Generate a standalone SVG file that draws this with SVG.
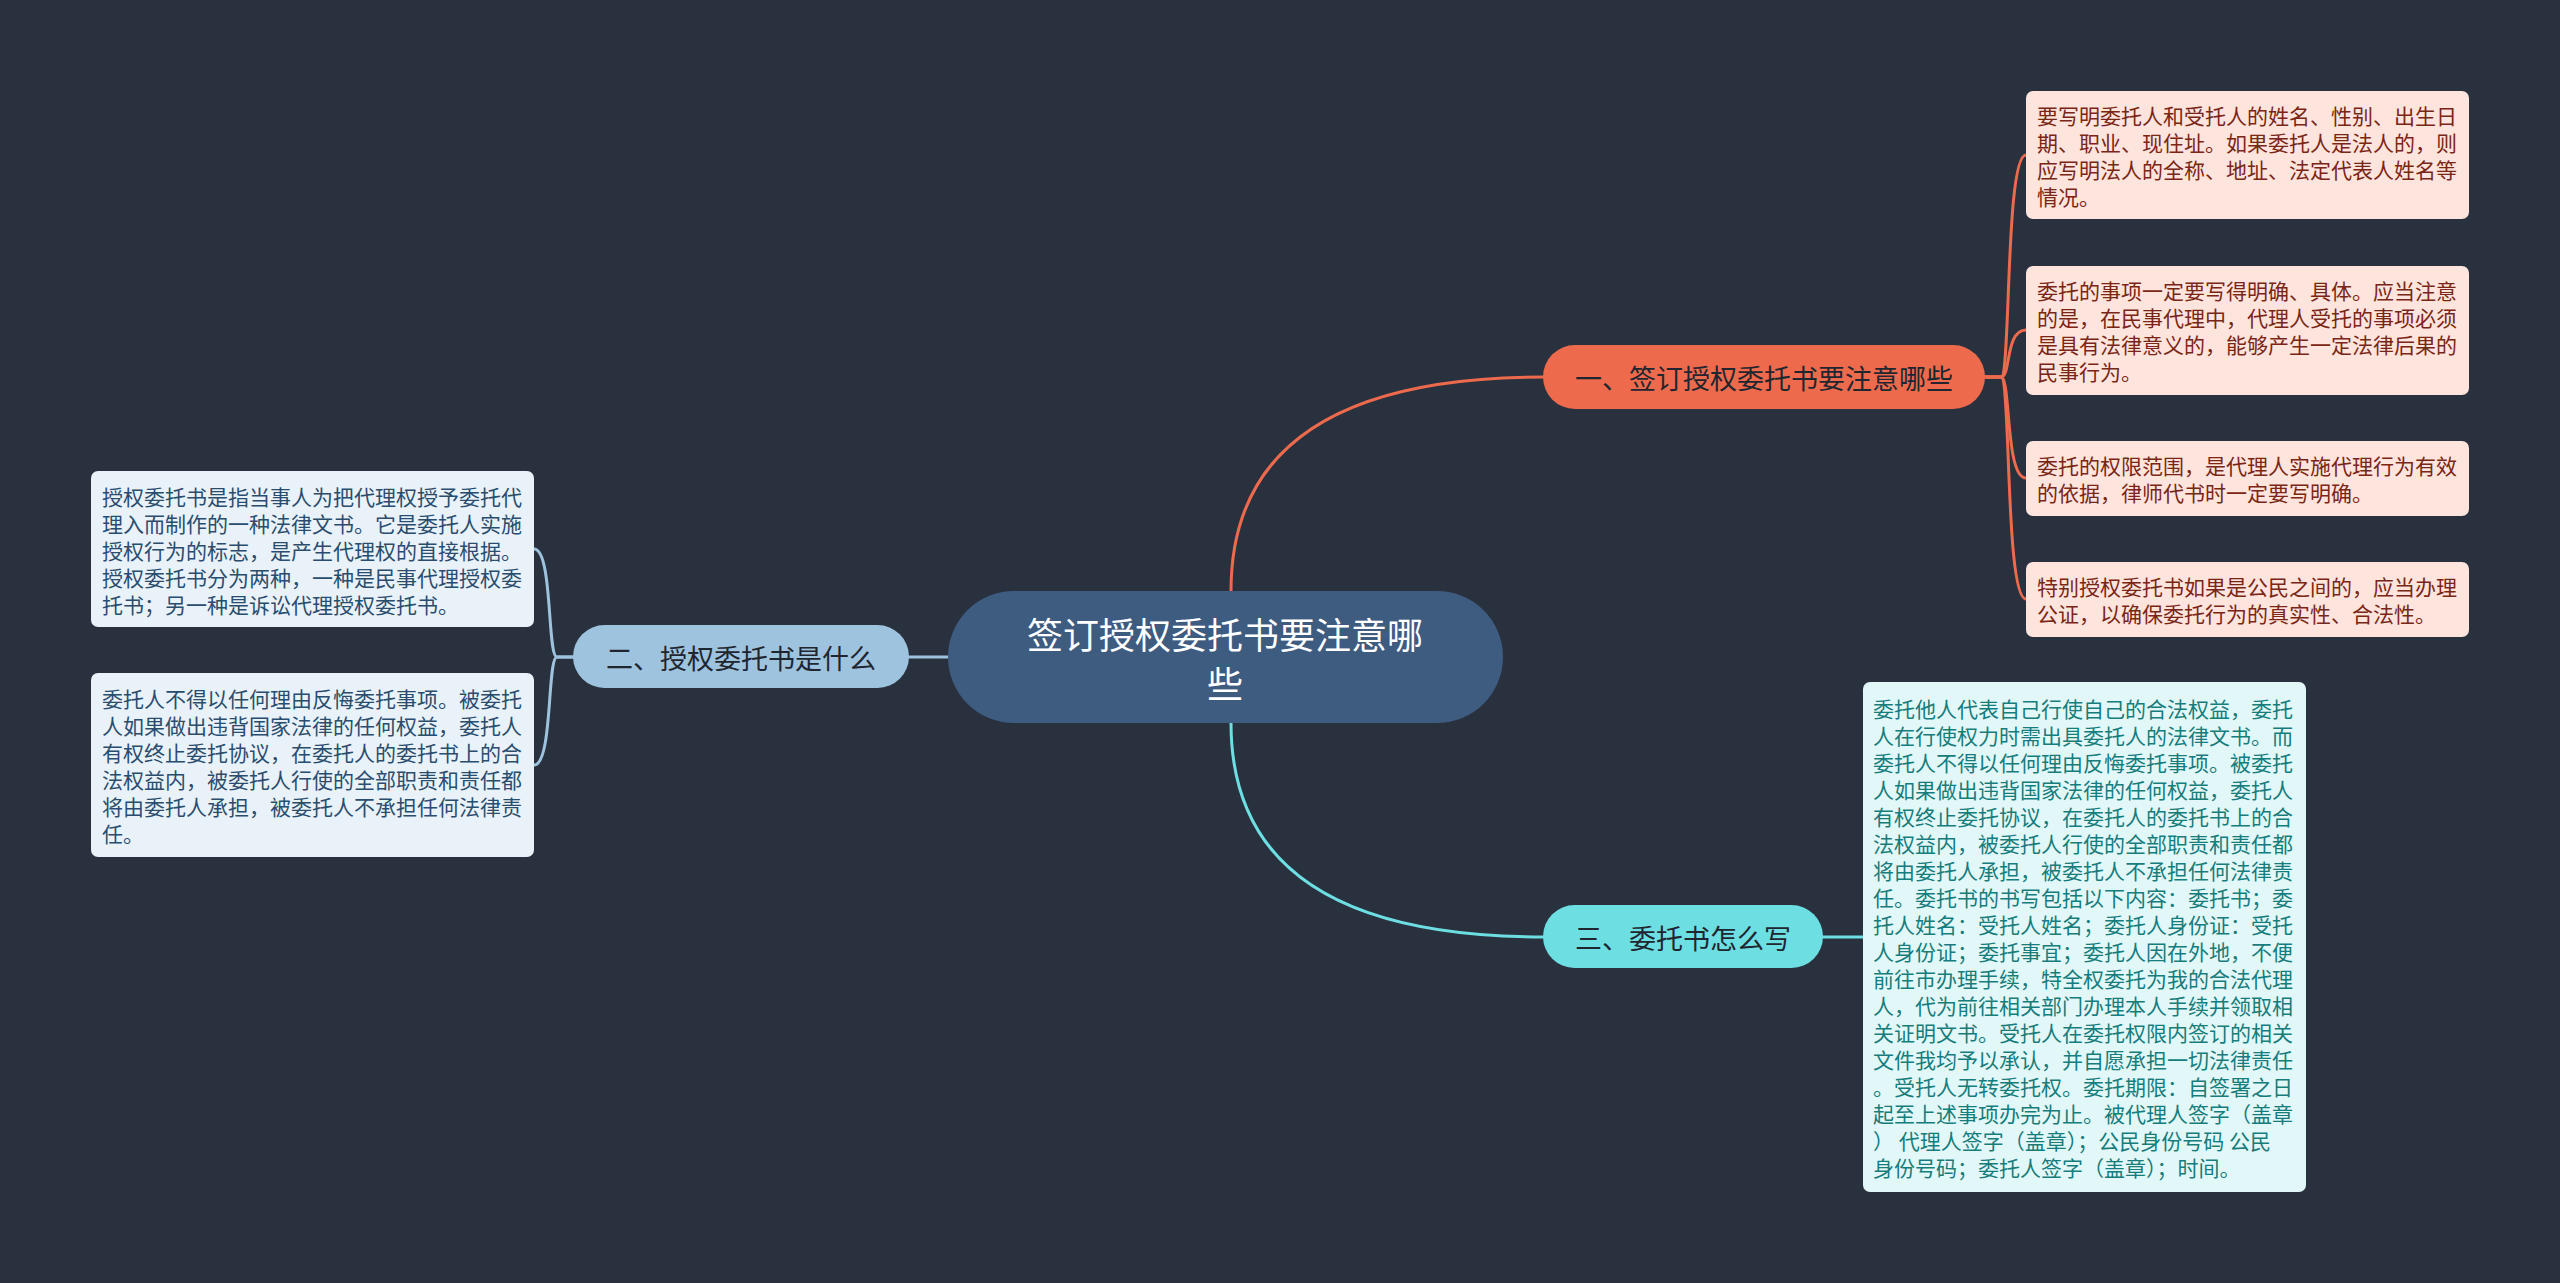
<svg xmlns="http://www.w3.org/2000/svg" width="2560" height="1283" viewBox="0 0 2560 1283">
<style>
text{font-family:"Noto Sans CJK SC","Noto Sans",sans-serif;dominant-baseline:central}
.c{fill:none;stroke-width:3;stroke-linecap:round}
.leaf text{font-size:21px}
.r rect{fill:#fde4dd}.r text{fill:#7a2616}
.b rect{fill:#e9f2f9}.b text{fill:#2a4d6e}
.t rect{fill:#e2f8f8}.t text{fill:#167c7c}
.lbl{font-size:27px;fill:#1f2630;text-anchor:middle}
</style>
<rect width="2560" height="1283" fill="#29303e"/>
<g id="connectors">
<path class="c" stroke="#ee6a4c" d="M1231 591 Q1231 377 1543 377"/>
<path class="c" stroke="#6ddfe2" d="M1231 723 Q1231 937 1543 937"/>
<path class="c" stroke="#9ec3de" d="M948 657 H909"/>
<path class="c" stroke="#ee6a4c" d="M1985 377 H2001 C2011 377 2005 155 2026 155"/>
<path class="c" stroke="#ee6a4c" d="M1985 377 H2001 C2011 377 2005 330 2026 330"/>
<path class="c" stroke="#ee6a4c" d="M1985 377 H2001 C2011 377 2005 478 2026 478"/>
<path class="c" stroke="#ee6a4c" d="M1985 377 H2001 C2011 377 2005 599 2026 599"/>
<path class="c" stroke="#9ec3de" d="M573 657 H557 C547 657 553 549 534 549"/>
<path class="c" stroke="#9ec3de" d="M573 657 H557 C547 657 553 765 534 765"/>
<path class="c" stroke="#6ddfe2" d="M1823 937 H1863"/>
</g>
<g id="root">
<rect x="948" y="591" width="555" height="132" rx="66" fill="#3e5b80"/>
<text x="1225" y="633" font-size="36" fill="#ffffff" text-anchor="middle">签订授权委托书要注意哪</text>
<text x="1225" y="682" font-size="36" fill="#ffffff" text-anchor="middle">些</text>
</g>
<g id="n1">
<rect x="1543" y="345" width="442" height="64" rx="32" fill="#ee6a4c"/>
<text class="lbl" x="1764" y="377">一、签订授权委托书要注意哪些</text>
</g>
<g id="n2">
<rect x="573" y="625" width="336" height="63" rx="31.5" fill="#9ec3de"/>
<text class="lbl" x="741" y="657">二、授权委托书是什么</text>
</g>
<g id="n3">
<rect x="1543" y="905" width="280" height="63" rx="31.5" fill="#6ddfe2"/>
<text class="lbl" x="1683" y="937">三、委托书怎么写</text>
</g>
<g id="r1" class="leaf r">
<rect x="2026" y="91" width="443" height="128" rx="7"/>
<text x="2037" y="115">要写明委托人和受托人的姓名、性别、出生日</text>
<text x="2037" y="142">期、职业、现住址。如果委托人是法人的，则</text>
<text x="2037" y="169">应写明法人的全称、地址、法定代表人姓名等</text>
<text x="2037" y="196">情况。</text>
</g>
<g id="r2" class="leaf r">
<rect x="2026" y="266" width="443" height="129" rx="7"/>
<text x="2037" y="290">委托的事项一定要写得明确、具体。应当注意</text>
<text x="2037" y="317">的是，在民事代理中，代理人受托的事项必须</text>
<text x="2037" y="344">是具有法律意义的，能够产生一定法律后果的</text>
<text x="2037" y="371">民事行为。</text>
</g>
<g id="r3" class="leaf r">
<rect x="2026" y="441" width="443" height="75" rx="7"/>
<text x="2037" y="465">委托的权限范围，是代理人实施代理行为有效</text>
<text x="2037" y="492">的依据，律师代书时一定要写明确。</text>
</g>
<g id="r4" class="leaf r">
<rect x="2026" y="562" width="443" height="75" rx="7"/>
<text x="2037" y="586">特别授权委托书如果是公民之间的，应当办理</text>
<text x="2037" y="613">公证，以确保委托行为的真实性、合法性。</text>
</g>
<g id="l1" class="leaf b">
<rect x="91" y="471" width="443" height="156" rx="7"/>
<text x="102" y="496">授权委托书是指当事人为把代理权授予委托代</text>
<text x="102" y="523">理入而制作的一种法律文书。它是委托人实施</text>
<text x="102" y="550">授权行为的标志，是产生代理权的直接根据。</text>
<text x="102" y="577">授权委托书分为两种，一种是民事代理授权委</text>
<text x="102" y="604">托书；另一种是诉讼代理授权委托书。</text>
</g>
<g id="l2" class="leaf b">
<rect x="91" y="673" width="443" height="184" rx="7"/>
<text x="102" y="698">委托人不得以任何理由反悔委托事项。被委托</text>
<text x="102" y="725">人如果做出违背国家法律的任何权益，委托人</text>
<text x="102" y="752">有权终止委托协议，在委托人的委托书上的合</text>
<text x="102" y="779">法权益内，被委托人行使的全部职责和责任都</text>
<text x="102" y="806">将由委托人承担，被委托人不承担任何法律责</text>
<text x="102" y="833">任。</text>
</g>
<g id="t1" class="leaf t">
<rect x="1863" y="682" width="443" height="510" rx="7"/>
<text x="1873" y="708">委托他人代表自己行使自己的合法权益，委托</text>
<text x="1873" y="735">人在行使权力时需出具委托人的法律文书。而</text>
<text x="1873" y="762">委托人不得以任何理由反悔委托事项。被委托</text>
<text x="1873" y="789">人如果做出违背国家法律的任何权益，委托人</text>
<text x="1873" y="816">有权终止委托协议，在委托人的委托书上的合</text>
<text x="1873" y="843">法权益内，被委托人行使的全部职责和责任都</text>
<text x="1873" y="870">将由委托人承担，被委托人不承担任何法律责</text>
<text x="1873" y="897">任。委托书的书写包括以下内容：委托书；委</text>
<text x="1873" y="924">托人姓名：受托人姓名；委托人身份证：受托</text>
<text x="1873" y="951">人身份证；委托事宜；委托人因在外地，不便</text>
<text x="1873" y="978">前往市办理手续，特全权委托为我的合法代理</text>
<text x="1873" y="1005">人，代为前往相关部门办理本人手续并领取相</text>
<text x="1873" y="1032">关证明文书。受托人在委托权限内签订的相关</text>
<text x="1873" y="1059">文件我均予以承认，并自愿承担一切法律责任</text>
<text x="1873" y="1086">。受托人无转委托权。委托期限：自签署之日</text>
<text x="1873" y="1113">起至上述事项办完为止。被代理人签字（盖章</text>
<text x="1873" y="1140">） 代理人签字（盖章）；公民身份号码 公民</text>
<text x="1873" y="1167">身份号码；委托人签字（盖章）；时间。</text>
</g>
</svg>
